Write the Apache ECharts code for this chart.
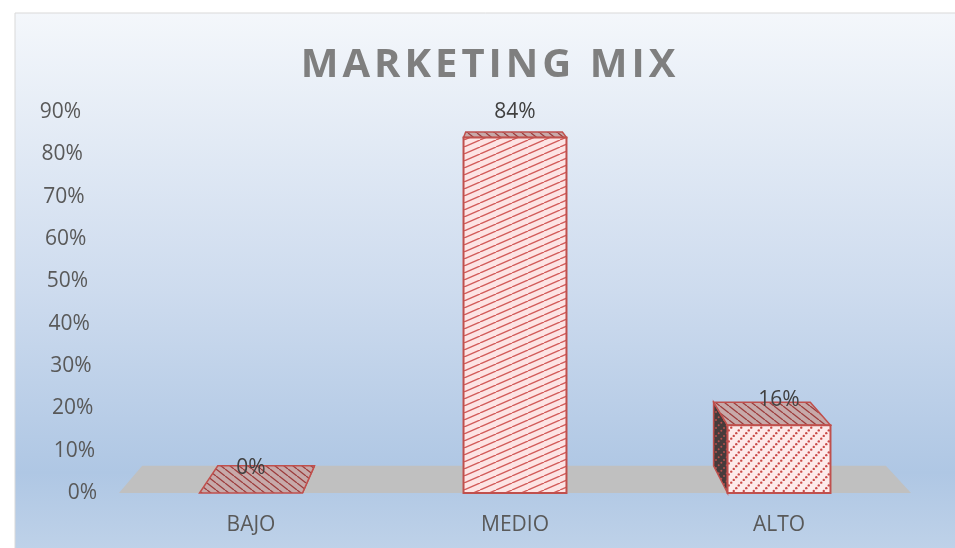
<!DOCTYPE html>
<html>
<head>
<meta charset="utf-8">
<script src="https://cdn.jsdelivr.net/npm/echarts@6/dist/echarts.min.js"></script>
<style>
  html, body { margin: 0; padding: 0; background: #fff; }
  #main { width: 955px; height: 548px; }
</style>
</head>
<body>
<div id="main"></div>
<script>
var categories = ['BAJO', 'MEDIO', 'ALTO'];
var values = [0, 84, 16];
var yTicks = [0, 10, 20, 30, 40, 50, 60, 70, 80, 90];
var titleText = 'MARKETING MIX';

// small canvas tiles used as hatch fills
function makeTile(w, h, bg, draw) {
    var cv = document.createElement('canvas');
    cv.width = w;
    cv.height = h;
    var ctx = cv.getContext('2d');
    ctx.fillStyle = bg;
    ctx.fillRect(0, 0, w, h);
    draw(ctx, w, h);
    return { image: cv, repeat: 'repeat' };
}
function risingLines(color, lw) {
    return function (ctx, w, h) {
        ctx.strokeStyle = color;
        ctx.lineWidth = lw;
        for (var k = -1; k <= 1; k++) {
            ctx.beginPath();
            ctx.moveTo(k * w, h);
            ctx.lineTo((k + 1) * w, 0);
            ctx.stroke();
        }
    };
}
function fallingLines(color, lw) {
    return function (ctx, w, h) {
        ctx.strokeStyle = color;
        ctx.lineWidth = lw;
        for (var k = -1; k <= 1; k++) {
            ctx.beginPath();
            ctx.moveTo(k * w, 0);
            ctx.lineTo((k + 1) * w, h);
            ctx.stroke();
        }
    };
}
function risingDots(color, n, r) {
    return function (ctx, w, h) {
        ctx.fillStyle = color;
        for (var i = 0; i < n; i++) {
            var t = (i + 0.5) / n;
            ctx.beginPath();
            ctx.arc(t * w, h - t * h, r, 0, Math.PI * 2);
            ctx.fill();
        }
    };
}

var frontFills = [
    makeTile(16, 7, '#fde4e4', risingLines('#d25c5a', 1.4)),
    makeTile(16, 7, '#fde4e4', risingLines('#d25c5a', 1.4)),
    makeTile(10, 11, '#fdeaea', risingDots('#c94a48', 4, 1.2))
];
var topFill = makeTile(9, 7, '#c7a9a9', fallingLines('#9c3b3b', 1.3));
var sideFill = makeTile(8, 8, '#463b3b', risingDots('#b5504d', 3, 1));
var edge = '#c0504d';

var chart = echarts.init(document.getElementById('main'));

// perspective: back face pulled toward a vanishing point above the plot
function persp(cs) {
    return { vx: cs.x + cs.width * 0.48, vy: cs.y - 64, d: 0.061 };
}
function back(p, v) {
    return [p[0] + v.d * (v.vx - p[0]), p[1] + v.d * (v.vy - p[1])];
}

function renderFloor(params, api) {
    var cs = params.coordSys;
    var v = persp(cs);
    var yb = api.coord([0, 0])[1];
    var fl = [cs.x, yb], fr = [cs.x + cs.width, yb];
    return {
        type: 'polygon',
        shape: { points: [fl, fr, back(fr, v), back(fl, v)] },
        style: { fill: '#c0c0c0' }
    };
}

function renderBar(params, api) {
    var cs = params.coordSys;
    var v = persp(cs);
    var idx = api.value(0);
    var val = api.value(1);
    var top = api.coord([idx, val]);
    var base = api.coord([idx, 0]);
    var w = api.size([1, 0])[0] * 0.39;
    var x0 = top[0] - w / 2, x1 = top[0] + w / 2;
    var yt = top[1], yb = base[1];
    var fl = [x0, yt], fr = [x1, yt], bl = [x0, yb], br = [x1, yb];
    var kids = [];
    if (x0 > v.vx) {
        kids.push({ type: 'polygon', shape: { points: [fl, back(fl, v), back(bl, v), bl] },
            style: { fill: sideFill, stroke: edge, lineWidth: 1.5 } });
    }
    if (x1 < v.vx) {
        kids.push({ type: 'polygon', shape: { points: [fr, back(fr, v), back(br, v), br] },
            style: { fill: sideFill, stroke: edge, lineWidth: 1.5 } });
    }
    if (yt > v.vy) {
        kids.push({ type: 'polygon', shape: { points: [fl, fr, back(fr, v), back(fl, v)] },
            style: { fill: topFill, stroke: edge, lineWidth: 1.5 } });
    }
    if (yb - yt > 0.5) {
        kids.push({ type: 'polygon', shape: { points: [fl, fr, br, bl] },
            style: { fill: frontFills[idx], stroke: edge, lineWidth: 2 } });
    }
    kids.push({
        type: 'text',
        style: {
            text: val + '%', x: top[0], y: yt - 25,
            align: 'center', verticalAlign: 'middle',
            fontSize: 21, fontFamily: 'Open Sans', fill: '#404040'
        }
    });
    return { type: 'group', children: kids };
}

// y labels drift right going down, like the tilted axis in the picture
var rich = {};
yTicks.forEach(function (t) {
    rich['t' + t] = { padding: [0, t / 90 * 16, 0, 0] };
});

var option = {
    backgroundColor: '#ffffff',
    animation: false,
    graphic: [
        {
            type: 'rect', z: -100, silent: true,
            shape: { x: 15, y: 13, width: 960, height: 560 },
            style: {
                fill: new echarts.graphic.LinearGradient(0, 0, 0, 1, [
                    { offset: 0, color: '#f4f7fb' },
                    { offset: 0.5, color: '#cddbee' },
                    { offset: 0.82, color: '#afc7e4' },
                    { offset: 1, color: '#c3d5ea' }
                ]),
                stroke: '#d9d9d9', lineWidth: 1
            }
        },
        {
            type: 'text', x: 488, y: 66,
            style: {
                text: titleText.split('').join('\u200A'),
                align: 'center', verticalAlign: 'middle',
                fontSize: 40, fontWeight: 'bold', fontFamily: 'Open Sans', fill: '#7f7f7f'
            }
        }
    ],
    grid: { left: 119, right: 44, top: 112, bottom: 55 },
    xAxis: {
        type: 'category',
        data: categories,
        axisLine: { show: false },
        axisTick: { show: false },
        axisLabel: { margin: 22, fontSize: 21, fontFamily: 'Open Sans', color: '#595959' }
    },
    yAxis: {
        type: 'value',
        min: 0,
        max: 90,
        interval: 10,
        axisLine: { show: false },
        axisTick: { show: false },
        splitLine: { show: false },
        axisLabel: {
            margin: 22,
            fontSize: 21,
            fontFamily: 'Open Sans',
            color: '#595959',
            formatter: function (v) { return '{t' + v + '|' + v + '%}'; },
            rich: rich
        }
    },
    series: [
        {
            type: 'custom',
            z: 1,
            renderItem: renderFloor,
            data: [[0, 0]]
        },
        {
            type: 'custom',
            z: 2,
            renderItem: renderBar,
            encode: { x: 0, y: 1 },
            data: values.map(function (v, i) { return [i, v]; })
        }
    ]
};
chart.setOption(option);
</script>
</body>
</html>
